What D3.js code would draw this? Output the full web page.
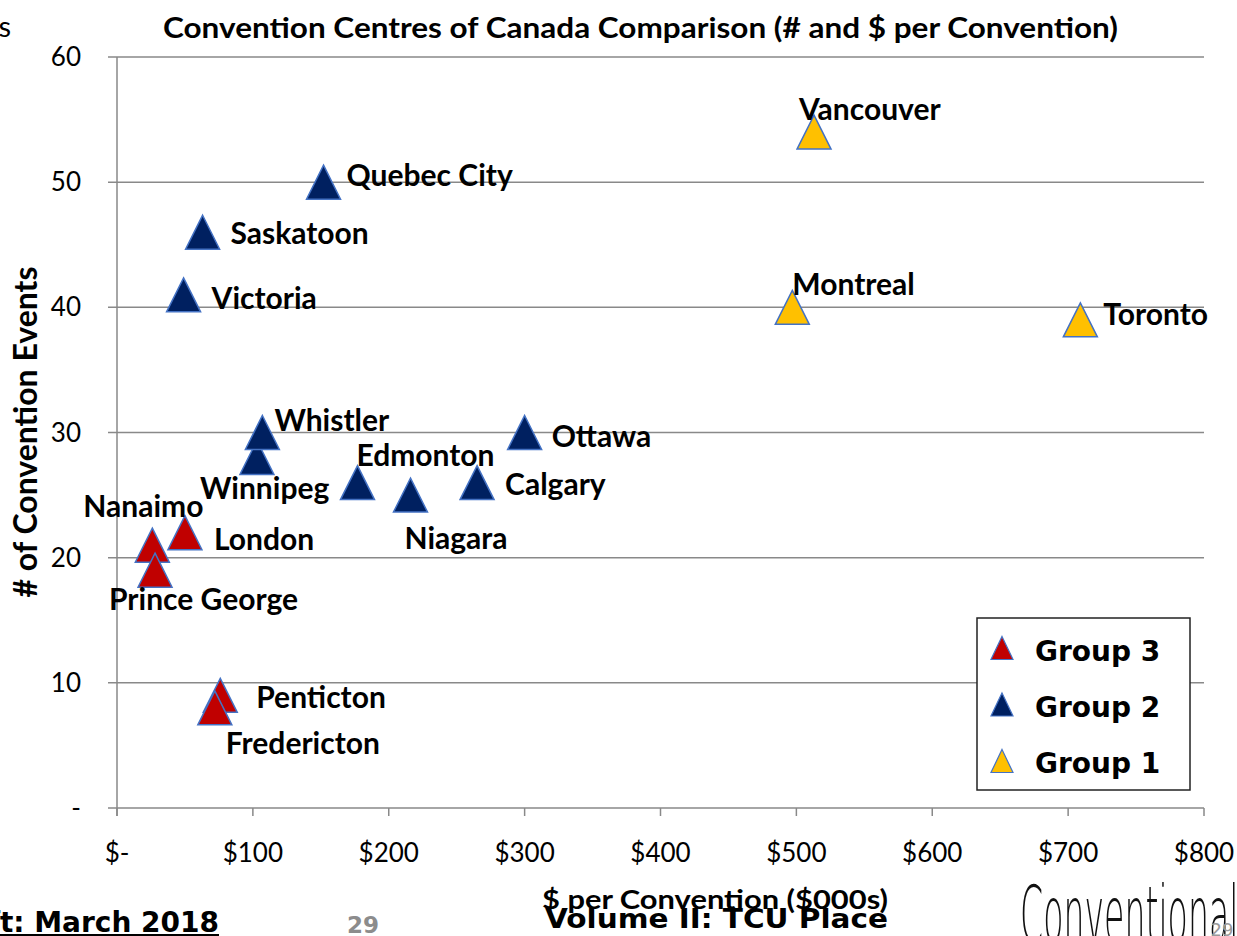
<!DOCTYPE html>
<html>
<head>
<meta charset="utf-8">
<script src="https://cdn.jsdelivr.net/npm/d3@7"></script>
<style>
  html, body { margin: 0; padding: 0; background: #fff; overflow: hidden; }
  svg { display: block; }
</style>
</head>
<body>
<svg id="chart" width="1237" height="936"></svg>
<script>
// Convention centres: cost per convention ($000s) vs number of convention events
const group3Names = ["Nanaimo", "Prince George", "London", "Penticton", "Fredericton"];
const group3Cost  = [26, 28, 50, 76, 72];
const group3Count = [21, 19, 22, 9, 8];

const group2Names = ["Quebec City", "Saskatoon", "Victoria", "Winnipeg", "Whistler", "Edmonton", "Niagara", "Calgary", "Ottawa"];
const group2Cost  = [152, 63, 49, 103, 107, 177, 216, 265, 300];
const group2Count = [50, 46, 41, 28, 30, 26, 25, 26, 30];

const group1Names = ["Vancouver", "Montreal", "Toronto"];
const group1Cost  = [513, 497, 709];
const group1Count = [54, 40, 39];

const seriesNames  = ["Group 3", "Group 2", "Group 1"];
const seriesColors = ["#C00000", "#002060", "#FFC000"];

const xTickValues = [0, 100, 200, 300, 400, 500, 600, 700, 800];
const xTickLabels = ["$-", "$100", "$200", "$300", "$400", "$500", "$600", "$700", "$800"];
const yTickValues = [0, 10, 20, 30, 40, 50, 60];
const yTickLabels = ["-", "10", "20", "30", "40", "50", "60"];

// label placement relative to each marker: [dx to text start, dy to baseline]
const labelOffsets = {
  "Nanaimo": [-69, -28],
  "Prince George": [-46, 40],
  "London": [29, 17],
  "Penticton": [36, 13],
  "Fredericton": [11, 46],
  "Quebec City": [23, 4],
  "Saskatoon": [28, 12],
  "Victoria": [28, 14],
  "Winnipeg": [-57, 41],
  "Whistler": [12, -2],
  "Edmonton": [-1, -17],
  "Niagara": [-6, 54],
  "Calgary": [28, 12],
  "Ottawa": [27, 14],
  "Vancouver": [-15, -12],
  "Montreal": [0, -12],
  "Toronto": [23, 5]
};

const series = [
  { name: seriesNames[0], color: seriesColors[0], pts: group3Names.map((n, i) => ({ n, x: group3Cost[i], y: group3Count[i] })) },
  { name: seriesNames[1], color: seriesColors[1], pts: group2Names.map((n, i) => ({ n, x: group2Cost[i], y: group2Count[i] })) },
  { name: seriesNames[2], color: seriesColors[2], pts: group1Names.map((n, i) => ({ n, x: group1Cost[i], y: group1Count[i] })) }
];

const svg = d3.select("#chart");
const x = d3.scaleLinear().domain([0, 800]).range([117, 1204]);
const y = d3.scaleLinear().domain([0, 60]).range([808, 57]);

const gridColor = "#898989";
const labelFont = "Lato, 'Liberation Sans', sans-serif";
const verdana = "'DejaVu Sans', Verdana, sans-serif";

// horizontal gridlines (extending into the tick mark on the left)
svg.append("g").selectAll("line").data(yTickValues).join("line")
  .attr("x1", x(0) - 9).attr("x2", x(800))
  .attr("y1", d => y(d)).attr("y2", d => y(d))
  .attr("stroke", gridColor).attr("stroke-width", 1.5);

// vertical axis line
svg.append("line")
  .attr("x1", x(0)).attr("x2", x(0)).attr("y1", y(60)).attr("y2", y(0) + 8)
  .attr("stroke", gridColor).attr("stroke-width", 1.5);

// x ticks
svg.append("g").selectAll("line").data(xTickValues).join("line")
  .attr("x1", d => x(d)).attr("x2", d => x(d))
  .attr("y1", y(0)).attr("y2", y(0) + 8)
  .attr("stroke", gridColor).attr("stroke-width", 1.5);

// tick labels
svg.append("g").selectAll("text").data(xTickValues).join("text")
  .attr("x", d => x(d)).attr("y", 862)
  .attr("text-anchor", "middle")
  .attr("font-family", labelFont).attr("font-size", 26)
  .text((d, i) => xTickLabels[i]);

svg.append("g").selectAll("text").data(yTickValues).join("text")
  .attr("x", 81).attr("y", d => y(d) + 9)
  .attr("text-anchor", "end")
  .attr("font-family", labelFont).attr("font-size", 26)
  .text((d, i) => yTickLabels[i]);

// triangle marker, centred on its bounding box
function tri(cx, cy, w, h) {
  const p = d3.path();
  p.moveTo(cx, cy - h / 2);
  p.lineTo(cx + w / 2, cy + h / 2);
  p.lineTo(cx - w / 2, cy + h / 2);
  p.closePath();
  return p.toString();
}

// markers
series.forEach(s => {
  svg.append("g").selectAll("path").data(s.pts).join("path")
    .attr("d", d => tri(x(d.x), y(d.y), 34, 34))
    .attr("fill", s.color)
    .attr("stroke", "#4472C4").attr("stroke-width", 1.5);
});

// data labels
series.forEach(s => {
  svg.append("g").selectAll("text").data(s.pts).join("text")
    .attr("x", d => x(d.x) + labelOffsets[d.n][0])
    .attr("y", d => y(d.y) + labelOffsets[d.n][1])
    .attr("font-family", labelFont).attr("font-weight", "bold").attr("font-size", 30)
    .attr("fill", "#000")
    .text(d => d.n);
});

// title
svg.append("text")
  .attr("x", 163).attr("y", 38)
  .attr("textLength", 955).attr("lengthAdjust", "spacingAndGlyphs")
  .attr("font-family", labelFont).attr("font-weight", "bold").attr("font-size", 28)
  .text("Convention Centres of Canada Comparison (# and $ per Convention)");

// text cut at the top-left page edge
svg.append("text")
  .attr("x", 11).attr("y", 37).attr("text-anchor", "end")
  .attr("font-family", labelFont).attr("font-size", 29)
  .text("Centres");

// y-axis title
svg.append("text")
  .attr("transform", "translate(37,432) rotate(-90)")
  .attr("text-anchor", "middle")
  .attr("font-family", labelFont).attr("font-weight", "bold").attr("font-size", 32)
  .text("# of Convention Events");

// x-axis title and overlapping footer text
svg.append("text")
  .attr("x", 542).attr("y", 909)
  .attr("textLength", 346).attr("lengthAdjust", "spacingAndGlyphs")
  .attr("font-family", labelFont).attr("font-weight", "bold").attr("font-size", 27)
  .text("$ per Convention ($000s)");
svg.append("text")
  .attr("x", 545).attr("y", 928)
  .attr("textLength", 343).attr("lengthAdjust", "spacingAndGlyphs")
  .attr("font-family", verdana).attr("font-weight", "bold").attr("font-size", 27)
  .text("Volume II: TCU Place");

// footer: date (underlined) and page number
svg.append("text")
  .attr("x", 219).attr("y", 932).attr("text-anchor", "end")
  .attr("font-family", verdana).attr("font-weight", "bold").attr("font-size", 28)
  .text("Draft: March 2018");
svg.append("line")
  .attr("x1", 0).attr("x2", 219).attr("y1", 935).attr("y2", 935)
  .attr("stroke", "#000").attr("stroke-width", 2);
svg.append("text")
  .attr("x", 363).attr("y", 933).attr("text-anchor", "middle")
  .attr("font-family", verdana).attr("font-weight", "bold").attr("font-size", 23)
  .attr("fill", "#8c8c8c")
  .text("29");

// logo wordmark
svg.append("text")
  .attr("transform", "translate(1020,942) scale(0.42,1.3)")
  .attr("textLength", 520).attr("lengthAdjust", "spacingAndGlyphs")
  .attr("font-family", "'DejaVu Sans', sans-serif").attr("font-weight", 200).attr("font-size", 60)
  .attr("fill", "#111")
  .text("Conventional");
svg.append("text")
  .attr("x", 1222).attr("y", 936).attr("text-anchor", "middle")
  .attr("font-family", verdana).attr("font-size", 18)
  .attr("fill", "#9a9a9a")
  .text("29");

// legend
const legend = svg.append("g");
legend.append("rect")
  .attr("x", 977).attr("y", 618).attr("width", 213).attr("height", 172)
  .attr("fill", "#fff").attr("stroke", "#222").attr("stroke-width", 1.5);
const legendOrder = [0, 1, 2];
legend.selectAll("path").data(legendOrder).join("path")
  .attr("d", (d, i) => tri(1002, 648 + i * 56.5, 22, 23))
  .attr("fill", d => seriesColors[d])
  .attr("stroke", "#4472C4").attr("stroke-width", 1.2);
legend.selectAll("text").data(legendOrder).join("text")
  .attr("x", 1035).attr("y", (d, i) => 661 + i * 56)
  .attr("font-family", verdana).attr("font-weight", "bold").attr("font-size", 28)
  .text(d => seriesNames[d]);
</script>
</body>
</html>
